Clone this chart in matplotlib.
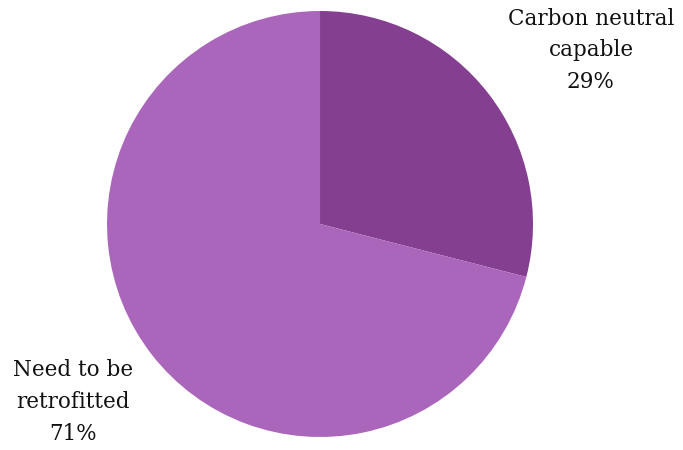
import matplotlib.pyplot as plt

labels = ['Carbon neutral\ncapable', 'Need to be\nretrofitted']
shares = [29, 71]
colors = ['#843f91', '#aa66bb']
label_pos = [(1.272, 0.815), (-1.16, -0.836)]

plt.rcParams['font.family'] = ['DejaVu Serif']

fig = plt.figure(figsize=(6.83, 4.5), dpi=100)
ax = fig.add_axes([0.1567, 0.0289, 0.6237, 0.9467])

ax.pie(shares, colors=colors, startangle=90, counterclock=False,
       radius=1, wedgeprops=dict(linewidth=0))

for name, val, (x, y) in zip(labels, shares, label_pos):
    ax.text(x, y, f'{name}\n{val}%', ha='center', va='center',
            fontsize=15.5, color='#111111', linespacing=1.57, clip_on=False)

ax.set_xlim(-1, 1)
ax.set_ylim(-1, 1)
ax.set_aspect('equal')
ax.axis('off')

fig.savefig('out.png', dpi=100)
